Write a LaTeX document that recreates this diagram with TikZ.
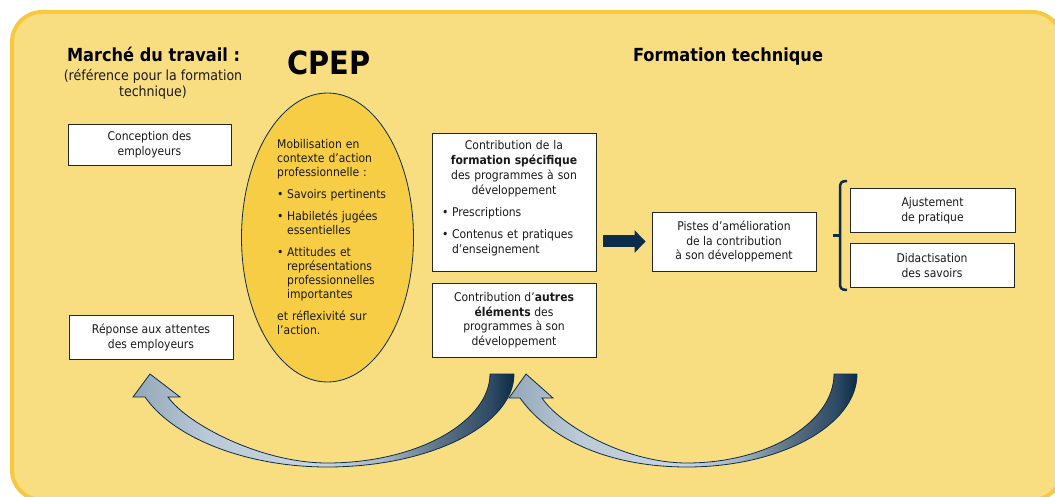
\documentclass[tikz,border=0pt]{standalone}
\usepackage{fontspec}
\setmainfont[FakeStretch=0.9]{DejaVu Sans}
\usetikzlibrary{shapes.geometric,arrows.meta}
\definecolor{bgfill}{HTML}{F9DE81}
\definecolor{bgline}{HTML}{F6C940}
\definecolor{ellfill}{HTML}{F6CD45}
\definecolor{navy}{HTML}{0B2C4A}
\definecolor{txt}{HTML}{1A1A1A}
\definecolor{sa}{HTML}{93A7B9}
\definecolor{sb}{HTML}{BCCAD7}
\definecolor{sc}{HTML}{C9D5E0}
\definecolor{sd}{HTML}{A5B4C2}
\definecolor{se}{HTML}{5E7488}
\definecolor{sf}{HTML}{2F4A64}
\definecolor{sg}{HTML}{0B2A47}
\pgfdeclarehorizontalshading{arrowshade}{100bp}{color(0bp)=(sa); color(25bp)=(sa); color(35bp)=(sb); color(50bp)=(sc); color(58bp)=(sd); color(65bp)=(se); color(72bp)=(sf); color(75bp)=(sg); color(100bp)=(sg)}
\newcommand{\bul}[1][10pt]{\makebox[#1][l]{•}}
\begin{document}
\begin{tikzpicture}[x=1pt,y=-1pt,
  box/.style={draw=black!85, line width=0.9pt, fill=white, inner sep=0pt, align=center, text=txt, font=\fontsize{12}{14.5}\selectfont},
  title/.style={font=\bfseries\fontsize{18}{20}\selectfont, text=black, anchor=base},
  curvedarrow/.style={shading=arrowshade, draw=navy, line width=0.8pt, line join=miter},
  bigarrow/.style={draw=navy, line width=12pt, -{Triangle[length=11pt,width=22pt]}},
  bracket/.style={draw=navy, line width=2.5pt}]
\useasboundingbox (0,0) rectangle (1055,497);
% background
\path[fill=bgfill, draw=bgline, line width=4pt, rounded corners=30pt] (12,12) rectangle (1062,500);
% titles
\node[title] (marche) at (153.5,62) {Marché du travail :};
\node[align=center, text=txt, font=\fontsize{14}{16}\selectfont] (ref) at (153,84.5) {(référence pour la formation\\technique)};
\node[font=\bfseries\fontsize{32}{34}\selectfont, anchor=base] (cpeptitle) at (329,75) {CPEP};
\node[title] (formtech) at (728,62) {Formation technique};
% left boxes
\node[box, minimum width=163pt, minimum height=41pt] (concep) at (149.5,144.5) {Conception des\\employeurs};
\node[box, minimum width=164pt, minimum height=44pt] (reponse) at (151,337.5) {Réponse aux attentes\\des employeurs};
% ellipse
\node[ellipse, draw=navy, line width=0.8pt, fill=ellfill, minimum width=172pt, minimum height=289pt, inner sep=0pt] (cpep) at (327.5,237.5) {};
\node[text width=118pt, align=left, inner sep=0pt, anchor=west, text=txt, font=\fontsize{12}{14}\selectfont] (cpeptext) at (277,237.5) {Mobilisation en\\contexte d’action\\professionnelle :\par\vspace{8pt}
\hangindent=10pt\hangafter=1\noindent\bul Savoirs pertinents\par\vspace{8pt}
\hangindent=10pt\hangafter=1\noindent\bul Habiletés jugées\newline essentielles\par\vspace{8pt}
\hangindent=10pt\hangafter=1\noindent\bul Attitudes et\newline représentations\newline professionnelles\newline importantes\par\vspace{8pt}
\noindent et réflexivité sur\\l’action.};
% middle boxes
\node[box, minimum width=164pt, minimum height=138pt, text width=150pt, align=left, font=\fontsize{12}{15}\selectfont] (spec) at (514,202) {{\centering Contribution de la\\\textbf{formation spécifique}\\des programmes à son\\développement\par}\vspace{7pt}
\hangindent=13pt\hangafter=1\noindent\hspace*{3pt}\bul Prescriptions\par\vspace{7pt}
\hangindent=13pt\hangafter=1\noindent\hspace*{3pt}\bul Contenus et pratiques\newline d’enseignement\par\vspace*{7pt}};
\node[box, minimum width=164pt, minimum height=74pt] (autres) at (514,320) {Contribution d’\textbf{autres}\\\textbf{éléments} des\\programmes à son\\développement};
% right boxes
\node[box, minimum width=164pt, minimum height=59pt] (pistes) at (734,241.5) {Pistes d’amélioration\\de la contribution\\à son développement};
\node[box, minimum width=165pt, minimum height=44pt] (ajust) at (932.5,210.5) {Ajustement\\de pratique};
\node[box, minimum width=164pt, minimum height=44pt] (didact) at (932,265.5) {Didactisation\\des savoirs};
% straight arrow
\draw[bigarrow] ([xshift=7pt]spec.east |- pistes.west) -- ([xshift=-6pt]pistes.west);
% bracket
\draw[bracket] (847,181) .. controls (841,181) and (840,183) .. (840,188) -- (840,283) .. controls (840,288) and (841,290) .. (847,290);
\draw[bracket] (840,235.5) -- (833,235.5);
% curved arrows
\shadedraw[curvedarrow] (514,374) .. controls (514,425) and (430,467) .. (327,467)
  .. controls (250,467) and (175,440) .. (145,397) -- (133,397) -- (150,374) -- (180,397) -- (168,397)
  .. controls (188,425) and (262,463) .. (327,463)
  .. controls (420,463) and (490,420) .. (490,374) -- cycle;
\shadedraw[curvedarrow] (857,374) .. controls (857,425) and (781,467) .. (687,467)
  .. controls (610,467) and (550,440) .. (520,398) -- (509,398) -- (526,374) -- (553,398) -- (542,398)
  .. controls (560,425) and (625,463) .. (687,463)
  .. controls (768,463) and (834,422) .. (834,374) -- cycle;
\end{tikzpicture}
\end{document}
